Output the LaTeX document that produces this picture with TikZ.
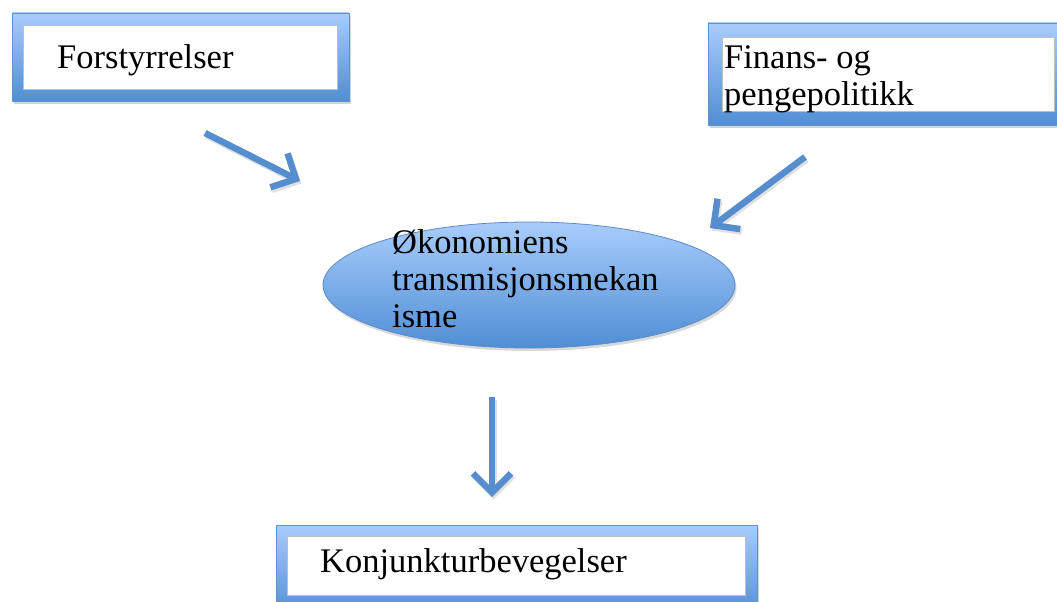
\documentclass[tikz,border=0pt]{standalone}
\usepackage{fontspec}
\setmainfont{Liberation Serif}
\usetikzlibrary{arrows.meta,shadows,shapes.geometric}
\definecolor{frametop}{RGB}{168,204,252}
\definecolor{framebot}{RGB}{80,142,212}
\definecolor{frameline}{RGB}{96,146,204}
\definecolor{ellline}{RGB}{92,140,200}
\definecolor{arrowcol}{RGB}{86,141,207}
\tikzset{
  frame/.style={draw=frameline, line width=0.8pt, top color=frametop, bottom color=framebot,
    drop shadow={opacity=0.35, shadow xshift=1.5pt, shadow yshift=-3pt}, inner sep=0pt},
  innerbox/.style={draw=black!25, line width=0.8pt, fill=white, inner sep=0pt},
  lbl/.style={font=\fontsize{34.5}{37}\selectfont, inner sep=0pt, align=left},
  flow/.style={draw=arrowcol, line width=6.5pt,
    -{Straight Barb[length=19pt,width=38pt,line width=6.5pt]},
    preaction={draw=black, opacity=0.12, line width=6.5pt, transform canvas={xshift=1.5pt,yshift=-2.5pt}}},
}
\begin{document}
\begin{tikzpicture}[x=1pt,y=-1pt]
\useasboundingbox (0,0) rectangle (1057,602);
% Box 1
\node[frame, minimum width=337pt, minimum height=88pt] (f1) at (180.5,57) {};
\node[innerbox, minimum width=314pt, minimum height=64pt] (b1) at (180,57) {};
\node[lbl, anchor=base west] (t1) at (57,68) {Forstyrrelser};
% Box 2
\node[frame, minimum width=362pt, minimum height=102pt] (f2) at (889,74) {};
\node[innerbox, minimum width=332pt, minimum height=74pt] (b2) at (888,74) {};
\node[lbl, anchor=base west] (t2) at (724,105) {Finans- og\\pengepolitikk};
% Box 3
\node[frame, minimum width=481pt, minimum height=92pt] (f3) at (516.5,571) {};
\node[innerbox, minimum width=458pt, minimum height=59pt] (b3) at (516,565.5) {};
\node[lbl, anchor=base west] (t3) at (320,572) {Konjunkturbevegelser};
% Ellipse
\node[ellipse, draw=ellline, line width=0.8pt, top color=frametop, bottom color=framebot,
  minimum width=412pt, minimum height=126pt, inner sep=0pt,
  drop shadow={opacity=0.3, shadow xshift=1.5pt, shadow yshift=-3pt}] (e) at (529,285) {};
\node[lbl, anchor=base west] (te) at (392,327) {Økonomiens\\transmisjonsmekan\\isme};
% Arrows
\coordinate (a1s) at (205,133);
\coordinate (a1e) at (300,181);
\coordinate (a2s) at (805,157);
\coordinate (a2e) at (710,228);
\coordinate (a3s) at (492,397);
\coordinate (a3e) at (492,497);
\draw[flow] (a1s) -- (a1e);
\draw[flow] (a2s) -- (a2e);
\draw[flow] (a3s) -- (a3e);
\end{tikzpicture}
\end{document}
